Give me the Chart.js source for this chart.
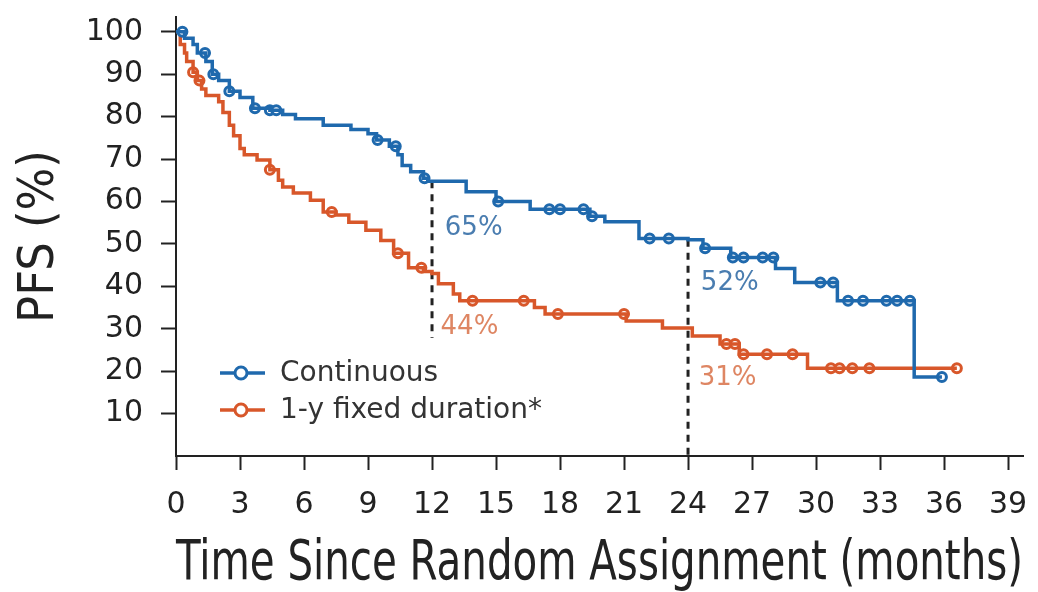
<!DOCTYPE html>
<html lang="en">
<head>
<meta charset="UTF-8" />
<title>PFS</title>
<script src="https://cdn.jsdelivr.net/npm/chart.js@4.4.0/dist/chart.umd.min.js"></script>
<style>
  html, body { margin: 0; padding: 0; background: #fff; }
  #wrap { width: 1038px; height: 592px; }
</style>
</head>
<body>
<div id="wrap"><canvas id="myChart"></canvas></div>
<script>
// Kaplan-Meier steps: time (months) and PFS (%) after each drop
const contTimes = [0, 0.4, 0.8, 1.0, 1.4, 1.7, 2.0, 2.5, 3.0, 3.6, 4.4, 5.0, 5.6, 6.9, 8.2, 9.0, 9.4, 10.0, 10.4, 10.6, 11.0, 11.6, 11.8,
  13.6, 15.0, 16.6, 19.4, 20.1, 21.7, 24.0, 24.7, 26.0, 28.1, 29.0, 31.0, 34.6, 35.9];
const contSurv = [100, 98.5, 97, 95, 93, 90, 88.5, 86, 84.5, 82, 81.5, 80.5, 79.5, 78, 77, 76, 74.5, 73, 71, 68.5, 67, 65.5, 64.8,
  62.3, 60, 58.2, 56.5, 55.2, 51.3, 51, 49, 46.8, 44.2, 40.9, 36.6, 18.6, 18.6];
const contCensor = [0.3, 1.36, 1.75, 2.5, 3.7, 4.4, 4.7, 9.45, 10.3, 11.65, 15.1, 17.5, 18.0, 19.1, 19.5, 22.2, 23.1, 24.8, 26.1,
  26.6, 27.5, 28.0, 30.2, 30.8, 31.5, 32.2, 33.3, 33.8, 34.4, 35.9];

const fixedTimes = [0, 0.2, 0.4, 0.5, 0.8, 1.0, 1.2, 1.4, 2.0, 2.2, 2.5, 2.7, 3.0, 3.2, 3.8, 4.4, 4.8, 5.0, 5.5, 6.3, 6.9, 7.5, 8.1,
  8.9, 9.6, 10.2, 10.9, 11.6, 12.0, 12.3, 13.0, 13.3, 16.8, 17.3, 21.1, 22.8, 24.2, 25.5, 26.4, 29.6, 36.6];
const fixedSurv = [100, 97, 95, 93, 90.5, 88.5, 86.5, 85, 83.5, 81, 78, 75.5, 72.5, 71, 69.8, 67.5, 65, 63.4, 62, 60.3, 57.5, 56.8, 55.1,
  53.2, 50.8, 47.8, 44.4, 43.5, 43, 40.6, 38.2, 36.6, 35, 33.5, 31.8, 30.2, 28.3, 26.4, 24, 20.7, 20.7];
const fixedCensor = [0.8, 1.1, 4.4, 7.3, 10.4, 11.5, 13.9, 16.3, 17.9, 21.0, 25.8, 26.2, 26.6, 27.7, 28.9, 30.7, 31.1, 31.7, 32.5, 36.6];

const xTicks = [0, 3, 6, 9, 12, 15, 18, 21, 24, 27, 30, 33, 36, 39];
const yTicks = [10, 20, 30, 40, 50, 60, 70, 80, 90, 100];

// dashed landmark lines (month, from %, to %) and their labels
const refTimes = [12, 24];
const refTop = [64.8, 51];
const refBottom = [27.8, 0];
const labelTexts = ["65%", "52%", "44%", "31%"];
const labelX = [12.6, 24.6, 12.4, 24.5];
const labelY = [53.8, 40.8, 30.4, 18.4];
const labelSeries = [0, 0, 1, 1];

const seriesNames = ["Continuous", "1-y fixed duration*"];
const lineColors = ["#1f69ad", "#d8572a"];
const textColors = ["#4a7db0", "#de8663"];

const FONT = '"DejaVu Sans", sans-serif';
const NARROW = '"Liberation Sans Narrow", "Arial Narrow", "DejaVu Sans Condensed", sans-serif';

function survAt(times, surv, t) {
  let v = surv[0];
  for (let i = 0; i < times.length; i++) {
    if (times[i] <= t) v = surv[i];
  }
  return v;
}
function stepPoints(times, surv) {
  return times.map((t, i) => ({ x: t, y: surv[i] }));
}
function censorPoints(censor, times, surv) {
  return censor.map((t) => ({ x: t, y: survAt(times, surv, t) }));
}

function curve(label, data, color) {
  return {
    label: label, data: data, borderColor: color, borderWidth: 3.5, showLine: true,
    stepped: "before", pointRadius: 0, fill: false, clip: false,
  };
}
function marks(label, data, color) {
  return {
    label: label, data: data, showLine: false, pointRadius: 4.5,
    pointBorderWidth: 3, pointBorderColor: color, pointBackgroundColor: "#fff", clip: false,
  };
}

const overlay = {
  id: "overlay",
  beforeDatasetsDraw(chart) {
    const { ctx, scales: { x, y } } = chart;
    ctx.save();
    ctx.setLineDash([7, 6]);
    ctx.lineWidth = 3;
    ctx.strokeStyle = "#222";
    refTimes.forEach((t, i) => {
      const px = x.getPixelForValue(t);
      ctx.beginPath();
      ctx.moveTo(px, y.getPixelForValue(refTop[i]));
      ctx.lineTo(px, y.getPixelForValue(refBottom[i]));
      ctx.stroke();
    });
    ctx.restore();
  },
  afterDatasetsDraw(chart) {
    const { ctx, chartArea, scales: { x, y } } = chart;
    ctx.save();
    ctx.font = "26px " + FONT;
    ctx.textAlign = "left";
    ctx.textBaseline = "middle";
    labelTexts.forEach((txt, i) => {
      ctx.fillStyle = textColors[labelSeries[i]];
      ctx.fillText(txt, x.getPixelForValue(labelX[i]), y.getPixelForValue(labelY[i]));
    });

    // legend
    const lx = chartArea.left + 44;
    seriesNames.forEach((name, i) => {
      const ly = chartArea.top + 356 + i * 37;
      ctx.strokeStyle = lineColors[i];
      ctx.lineWidth = 3.5;
      ctx.beginPath();
      ctx.moveTo(lx, ly);
      ctx.lineTo(lx + 45, ly);
      ctx.stroke();
      ctx.beginPath();
      ctx.arc(lx + 21, ly, 6, 0, Math.PI * 2);
      ctx.fillStyle = "#fff";
      ctx.fill();
      ctx.lineWidth = 3;
      ctx.stroke();
      ctx.fillStyle = "#333";
      ctx.font = "28px " + FONT;
      ctx.fillText(name, lx + 60, ly + 1);
    });
    ctx.restore();
  },
};

Chart.defaults.font.family = FONT;
Chart.defaults.color = "#222";

new Chart(document.getElementById("myChart"), {
  type: "scatter",
  data: {
    datasets: [
      curve(seriesNames[0], stepPoints(contTimes, contSurv), lineColors[0]),
      marks(seriesNames[0] + " censored", censorPoints(contCensor, contTimes, contSurv), lineColors[0]),
      curve(seriesNames[1], stepPoints(fixedTimes, fixedSurv), lineColors[1]),
      marks(seriesNames[1] + " censored", censorPoints(fixedCensor, fixedTimes, fixedSurv), lineColors[1]),
    ],
  },
  options: {
    responsive: true,
    maintainAspectRatio: false,
    animation: false,
    events: [],
    layout: { padding: { top: 17, right: 15, left: 0, bottom: 0 } },
    plugins: { legend: { display: false }, tooltip: { enabled: false } },
    scales: {
      x: {
        type: "linear", min: 0, max: 39.7,
        afterBuildTicks: (s) => { s.ticks = xTicks.map((v) => ({ value: v })); },
        afterFit: (s) => { s.height = 136; s.paddingLeft = 0; s.paddingRight = 0; },
        ticks: { padding: 17, font: { size: 30 }, color: "#222" },
        grid: { drawOnChartArea: false, tickLength: 14, tickWidth: 2, tickColor: "#222" },
        border: { color: "#222", width: 2 },
        title: {
          display: true, text: "Time Since Random Assignment (months)", color: "#222", padding: 0,
          font: { size: 55, lineHeight: 1, family: NARROW },
        },
      },
      y: {
        type: "linear", min: 0, max: 103.5,
        afterBuildTicks: (s) => { s.ticks = yTicks.map((v) => ({ value: v })); },
        afterFit: (s) => { s.width = 176; s.paddingTop = 0; s.paddingBottom = 0; },
        ticks: { padding: 18, font: { size: 30 }, color: "#222" },
        grid: { drawOnChartArea: false, tickLength: 15, tickWidth: 2, tickColor: "#222" },
        border: { color: "#222", width: 2 },
        title: {
          display: true, text: "PFS (%)", color: "#222", padding: 15,
          font: { size: 50, lineHeight: 1, family: NARROW },
        },
      },
    },
  },
  plugins: [overlay],
});
</script>
</body>
</html>
